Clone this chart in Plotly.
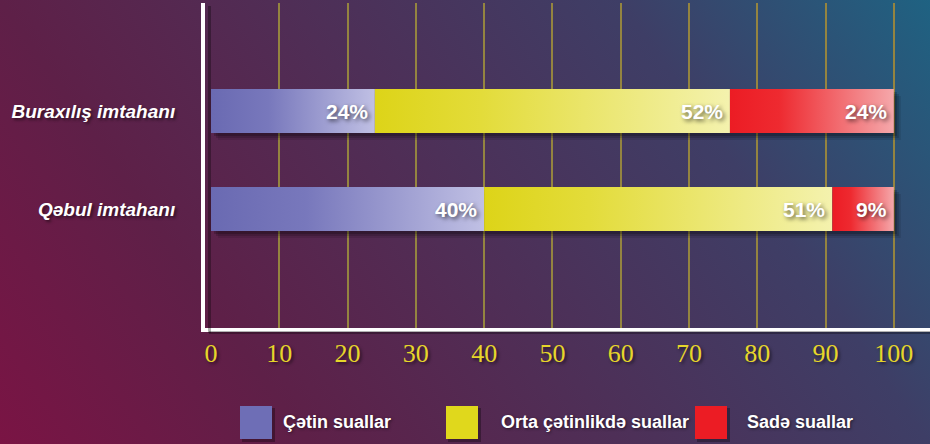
import base64
import plotly.graph_objects as go

# ---------------- data ----------------
categories = ["Qəbul imtahanı", "Buraxılış imtahanı"]          # bottom -> top
series_names = ["Çətin suallar", "Orta çətinlikdə suallar", "Sadə suallar"]
hard_values = [40, 24]
medium_values = [51, 52]
easy_values = [9, 24]
tick_values = [0, 10, 20, 30, 40, 50, 60, 70, 80, 90, 100]
tick_labels = ["0", "10", "20", "30", "40", "50", "60", "70", "80", "90", "100"]

series_values = [hard_values, medium_values, easy_values]
base_colors = ["#6e6eb6", "#e0d81c", "#ec1c24"]
gradients = [
    [[0, "#6a6ab2"], [0.35, "#7878bc"], [1, "#c0c0e4"]],
    [[0, "#ddd418"], [0.3, "#e3dc3a"], [1, "#f4f2ae"]],
    [[0, "#ec1c24"], [0.3, "#ee2a30"], [1, "#f5a8ab"]],
]

# ---------------- geometry ----------------
W, H = 930, 444
L, R, T, B = 205, 0, 3, 116
PW, PH = W - L - R, H - T - B
x_range = [-0.88, 105.3]
y_range = [-1.214, 2.102]
half = 0.2245
xu = (x_range[1] - x_range[0]) / PW   # data units per px
yu = (y_range[1] - y_range[0]) / PH

def px(xp):
    return (xp - L) / PW

def py(yp):
    return (H - B - yp) / PH

fig = go.Figure()

# bar shadows
for i, cat in enumerate(categories):
    total = sum(s[i] for s in series_values)
    for off, alpha in [(7, 0.10), (5, 0.15), (3, 0.2)]:
        dx, dy = off * xu, off * yu
        fig.add_trace(go.Scatter(
            x=[0 + dx, total + dx, total + dx, 0 + dx, 0 + dx],
            y=[i - half - dy, i - half - dy, i + half - dy, i + half - dy, i - half - dy],
            mode="lines", fill="toself", line=dict(width=0),
            fillcolor=f"rgba(0,0,0,{alpha})", hoverinfo="skip", showlegend=False))

annotations = []
for i, cat in enumerate(categories):
    left = 0
    for s, vals in enumerate(series_values):
        v = vals[i]
        x0, x1 = left, left + v
        fig.add_trace(go.Scatter(
            x=[x0, x1, x1, x0, x0],
            y=[i - half, i - half, i + half, i + half, i - half],
            mode="lines", fill="toself", line=dict(width=0),
            fillgradient=dict(type="horizontal", colorscale=gradients[s]),
            fillcolor=base_colors[s],
            name=series_names[s], hoverinfo="name", showlegend=False))
        annotations.append(dict(
            x=x1, y=i, xref="x", yref="y", text=f"{v}%", showarrow=False,
            xanchor="right", yanchor="middle", xshift=-5,
            font=dict(family="Arial, Liberation Sans", size=21, color="white",
                      weight="bold", shadow="2px 2px 4px rgba(0,0,0,0.6)")))
        left = x1

# legend (manual)
legend_boxes = [(240, 272), (446, 478), (695, 727)]
legend_text_x = [281, 499, 745]
shapes = []
for s, (a, b) in enumerate(legend_boxes):
    shapes.append(dict(type="rect", xref="paper", yref="paper",
                       x0=px(a + 2), x1=px(b + 3), y0=py(439 + 3), y1=py(406 + 2),
                       fillcolor="rgba(0,0,0,0.3)", line=dict(width=0)))
    shapes.append(dict(type="rect", xref="paper", yref="paper",
                       x0=px(a), x1=px(b), y0=py(439), y1=py(406),
                       fillcolor=base_colors[s], line=dict(width=0)))
    annotations.append(dict(
        x=px(legend_text_x[s]), y=py(422), xref="paper", yref="paper",
        text=series_names[s], showarrow=False, xanchor="left", yanchor="middle",
        font=dict(family="Arial, Liberation Sans", size=18, color="white",
                  weight="bold", shadow="1px 1px 3px rgba(0,0,0,0.5)")))

# axis line shadows
shapes.append(dict(type="line", xref="paper", yref="paper",
                   x0=px(209.5), x1=px(209.5), y0=py(6), y1=py(333),
                   line=dict(color="rgba(0,0,0,0.3)", width=3)))
shapes.append(dict(type="line", xref="paper", yref="paper",
                   x0=px(209), x1=1, y0=py(332.5), y1=py(332.5),
                   line=dict(color="rgba(0,0,0,0.3)", width=3)))

# background gradient image
svg = ('<svg xmlns="http://www.w3.org/2000/svg" width="930" height="444">'
       '<defs><linearGradient id="g" gradientUnits="userSpaceOnUse" '
       'x1="0" y1="444" x2="833" y2="-138">'
       '<stop offset="0" stop-color="#7a1444"/>'
       '<stop offset="0.25" stop-color="#5e2048"/>'
       '<stop offset="0.75" stop-color="#3e3e66"/>'
       '<stop offset="1" stop-color="#1f6282"/>'
       '</linearGradient></defs>'
       '<rect width="930" height="444" fill="url(#g)"/></svg>')
src = "data:image/svg+xml;base64," + base64.b64encode(svg.encode()).decode()

fig.update_layout(
    width=W, height=H,
    margin=dict(l=L, r=R, t=T, b=B, pad=0),
    paper_bgcolor="#4e2c56",
    plot_bgcolor="rgba(0,0,0,0)",
    showlegend=False,
    images=[dict(source=src, xref="paper", yref="paper",
                 x=-L / PW, y=1 + T / PH, sizex=W / PW, sizey=H / PH,
                 xanchor="left", yanchor="top", sizing="stretch", layer="below")],
    shapes=shapes,
    annotations=annotations,
    xaxis=dict(range=x_range, tickvals=tick_values, ticktext=tick_labels,
               showgrid=True, gridcolor="#948440", gridwidth=2,
               zeroline=True, zerolinecolor="rgba(0,0,0,0)", zerolinewidth=1,
               showline=True, linecolor="white", linewidth=4,
               ticks="", ticklabelstandoff=-1,
               tickfont=dict(family="Liberation Serif, Times New Roman", size=26,
                             color="#e6d62a", shadow="2px 2px 3px rgba(0,0,0,0.5)"),
               fixedrange=True),
    yaxis=dict(range=y_range, tickvals=[0, 1], ticktext=categories,
               showgrid=False, zeroline=False,
               showline=True, linecolor="white", linewidth=4,
               ticks="", ticklabelstandoff=22,
               tickfont=dict(family="Arial, Liberation Sans", size=19, color="white",
                             weight="bold", style="italic",
                             shadow="2px 2px 3px rgba(0,0,0,0.5)"),
               fixedrange=True),
)

fig.write_html("out.html",
               config={"displayModeBar": False},
               post_script="document.body.style.margin='0';document.body.style.overflow='hidden';")
